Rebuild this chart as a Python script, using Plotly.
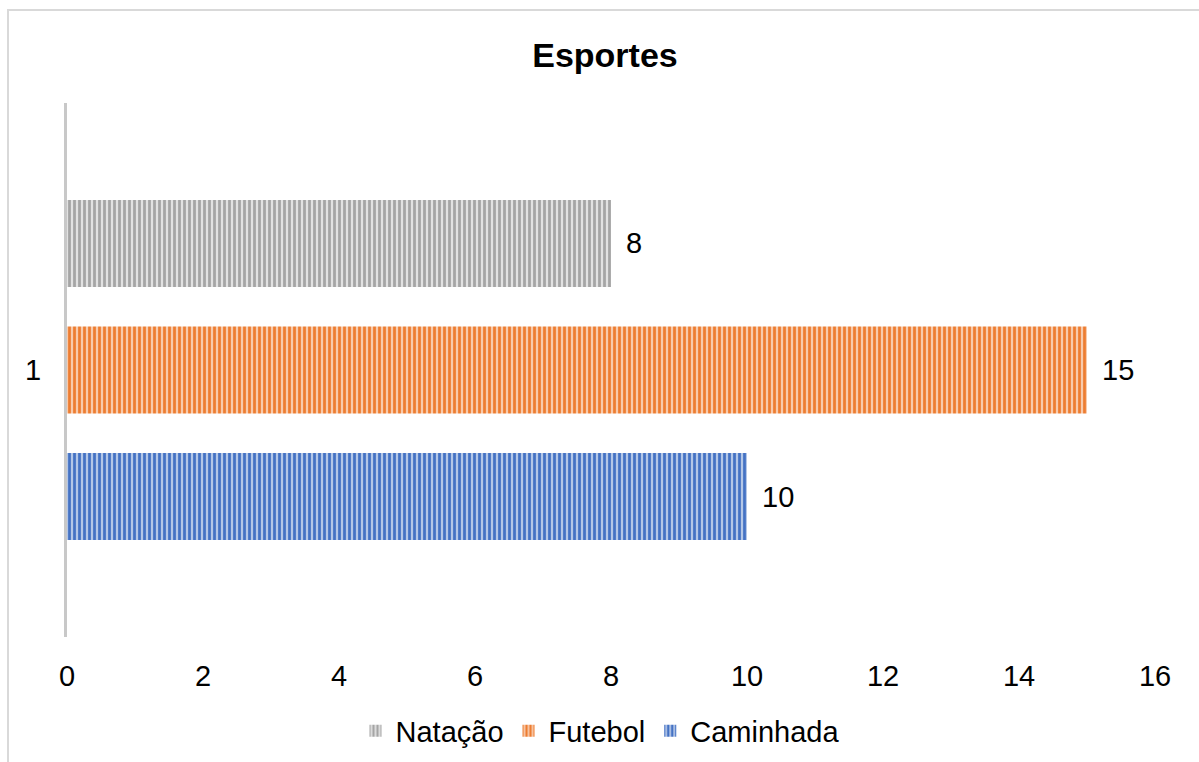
import plotly.graph_objects as go

# Sports survey: one category, three series
categories = ["1"]
series_names = ["Caminhada", "Futebol", "Natação"]
caminhada = [10]
futebol = [15]
natacao = [8]
x_ticks = [0, 2, 4, 6, 8, 10, 12, 14, 16]

base_colors = {"Caminhada": "#4472c4", "Futebol": "#ed7d31", "Natação": "#a5a5a5"}
stripe_colors = {"Caminhada": "#b4c7e7", "Futebol": "#f8cbad", "Natação": "#e2e2e2"}
values = {"Caminhada": caminhada, "Futebol": futebol, "Natação": natacao}

FONT = "Liberation Sans, Arial, sans-serif"
FS = 29

fig = go.Figure()
for name in series_names:
    fig.add_trace(go.Bar(
        name=name,
        y=categories,
        x=values[name],
        orientation="h",
        marker=dict(
            color=base_colors[name],
            line=dict(width=0),
            pattern=dict(shape="|", fgcolor=base_colors[name],
                         bgcolor=stripe_colors[name], size=5, solidity=0.55,
                         fillmode="replace"),
        ),
        hoverinfo="x+name",
    ))

# value labels beside each bar
annotations = []
offsets = {"Caminhada": -1, "Futebol": 0, "Natação": 1}
for name in series_names:
    v = values[name][0]
    annotations.append(dict(
        x=v, y=offsets[name] * 0.237, xref="x", yref="y",
        text=str(v), showarrow=False, xanchor="left", yanchor="middle",
        xshift=13, font=dict(family=FONT, size=FS, color="#000000"),
    ))

# light outer frame of the chart area
shapes = [dict(
    type="rect", xref="paper", yref="paper",
    x0=(8 - 67) / 1088, x1=1.2, y0=-0.5, y1=(637 - 10) / 534,
    line=dict(color="#d9d9d9", width=2), fillcolor="rgba(0,0,0,0)", layer="below",
)]

fig.update_layout(
    width=1199, height=762,
    margin=dict(l=67, r=44, t=103, b=125, autoexpand=False),
    paper_bgcolor="#ffffff", plot_bgcolor="#ffffff",
    barmode="group", bargap=0.289, bargroupgap=0.312,
    font=dict(family=FONT, size=FS, color="#000000"),
    title=dict(text="<b>Esportes</b>", x=605 / 1199, xanchor="center",
               y=1 - 55 / 762, yanchor="middle",
               font=dict(family=FONT, size=34, color="#000000")),
    xaxis=dict(range=[0, 16], tickvals=x_ticks, showgrid=False, zeroline=False,
               showline=False, ticks="", ticklabelstandoff=19,
               tickfont=dict(family=FONT, size=FS, color="#000000")),
    yaxis=dict(type="category", range=[-0.5, 0.5], showgrid=False, zeroline=False,
               showline=True, linecolor="#c8c8c8", linewidth=3, ticks="",
               ticklabelstandoff=17,
               tickfont=dict(family=FONT, size=FS, color="#000000")),
    legend=dict(orientation="h", traceorder="reversed", x=(600 - 67) / 1088,
                xanchor="center", y=(637 - 731) / 534, yanchor="middle",
                font=dict(family=FONT, size=FS, color="#000000"),
                itemwidth=30, bgcolor="rgba(0,0,0,0)"),
    annotations=annotations,
    shapes=shapes,
    showlegend=True,
)

fig.write_html("out.html")
